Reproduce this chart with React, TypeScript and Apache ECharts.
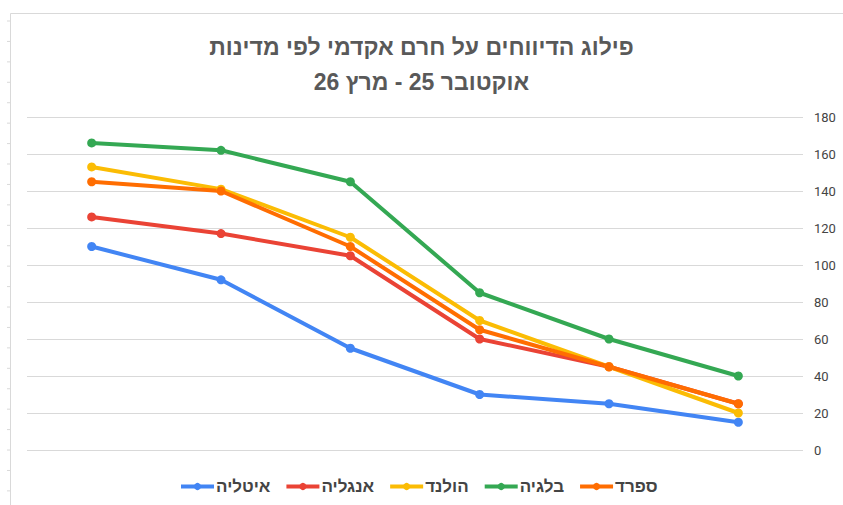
import React, { useEffect, useRef } from "react";
import * as echarts from "echarts";

const titleLines = ["פילוג הדיווחים על חרם אקדמי לפי מדינות", "אוקטובר 25 - מרץ 26"];
const categories = ["1", "2", "3", "4", "5", "6"];
const seriesNames = ["איטליה", "אנגליה", "הולנד", "בלגיה", "ספרד"];
const italy = [110, 92, 55, 30, 25, 15];
const england = [126, 117, 105, 60, 45, 25];
const netherlands = [153, 141, 115, 70, 45, 20];
const belgium = [166, 162, 145, 85, 60, 40];
const spain = [145, 140, 110, 65, 45, 25];
const seriesValues = [italy, england, netherlands, belgium, spain];
const colors = ["#4285F4", "#EA4335", "#FBBC04", "#34A853", "#FF6D01"];
const yMin = 0;
const yMax = 180;
const yStep = 20;

export default function App() {
  const ref = useRef<HTMLDivElement>(null);
  useEffect(() => {
    if (!ref.current) return;
    const chart = echarts.init(ref.current, null, { renderer: "svg" });
    const ticks: any[] = [];
    for (let i = 0; i < 24; i++) {
      const y = 21 + i * 20.43;
      ticks.push({
        type: "line",
        shape: { x1: 7, y1: y, x2: 10, y2: y },
        style: { stroke: "#d9d9d9", lineWidth: 1 },
        silent: true,
      });
    }
    chart.setOption({
      animation: false,
      backgroundColor: "#ffffff",
      color: colors,
      title: {
        text: titleLines.join("\n"),
        left: "center",
        top: 24,
        textStyle: {
          fontFamily: "Liberation Sans, Arial, sans-serif",
          fontSize: 23,
          fontWeight: "bold",
          color: "#595959",
          lineHeight: 35,
        },
      },
      graphic: [
        {
          type: "polyline",
          shape: { points: [[10.5, 505], [10.5, 13.5], [843, 13.5]] },
          style: { stroke: "#d9d9d9", lineWidth: 1, fill: "none" },
          silent: true,
        },
        ...ticks,
      ],
      legend: {
        data: seriesNames,
        bottom: 5,
        left: 174,
        itemWidth: 33,
        itemHeight: 9,
        itemGap: 14,
        lineStyle: { width: 4 },
        textStyle: {
          fontFamily: "Liberation Sans, Arial, sans-serif",
          fontSize: 17,
          fontWeight: "bold",
          color: "#444444",
          padding: [0, 0, 0, -3],
        },
      },
      grid: { left: 27, right: 40, top: 117, bottom: 55, containLabel: false },
      xAxis: {
        type: "category",
        data: categories,
        boundaryGap: true,
        axisLine: { show: false },
        axisTick: { show: false },
        axisLabel: { show: false },
        splitLine: { show: false },
      },
      yAxis: {
        type: "value",
        position: "right",
        min: yMin,
        max: yMax,
        interval: yStep,
        axisLine: { show: false },
        axisTick: { show: false },
        axisLabel: {
          margin: 11,
          fontFamily: "Roboto, Arial, sans-serif",
          fontSize: 13,
          color: "#444444",
        },
        splitLine: { lineStyle: { color: "#d9d9d9", width: 1 } },
      },
      series: seriesNames.map((name, i) => ({
        name,
        type: "line",
        data: seriesValues[i],
        symbol: "circle",
        symbolSize: 9,
        lineStyle: { width: 4, color: colors[i] },
        itemStyle: { color: colors[i] },
        emphasis: { disabled: true },
      })),
    });
    return () => chart.dispose();
  }, []);
  return (
    <div
      ref={ref}
      style={{ position: "fixed", left: 0, top: 0, width: 843, height: 505 }}
    />
  );
}
